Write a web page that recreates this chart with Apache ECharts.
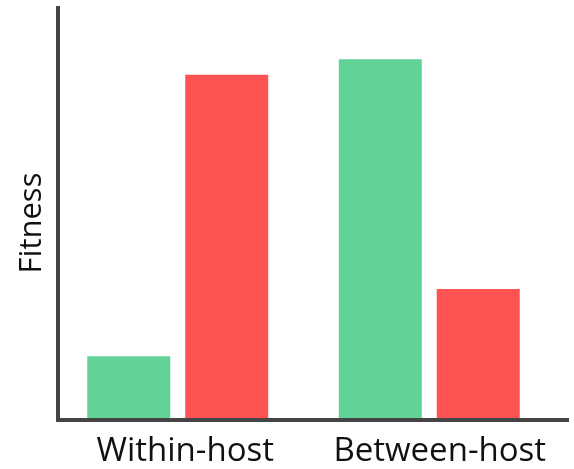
<!DOCTYPE html>
<html>
<head>
<meta charset="utf-8">
<script src="https://cdn.jsdelivr.net/npm/echarts@6/dist/echarts.min.js"></script>
<style>
  html, body { margin: 0; padding: 0; background: #ffffff; }
  #chart { width: 574px; height: 469px; }
</style>
</head>
<body>
<div id="chart"></div>
<script>
// Fitness of the two strategies at each level of selection
const categories = ['Within-host', 'Between-host'];
const greenValues = [15.0, 87.1];
const redValues = [83.3, 31.3];
const yAxisTitle = 'Fitness';

const axisColor = '#444444';
const textFont = '"Open Sans", Lato, sans-serif';

const chart = echarts.init(document.getElementById('chart'), null, { renderer: 'canvas' });

chart.setOption({
  animation: false,
  backgroundColor: '#ffffff',
  grid: [
    // frame with the axis lines and category labels
    { left: 58, right: 7, top: 8, bottom: 49 },
    // plotting area for the bars
    { left: 52, right: 19, top: 6, bottom: 51 }
  ],
  xAxis: [
    {
      gridIndex: 0,
      type: 'category',
      data: categories,
      axisLine: { show: true, lineStyle: { color: axisColor, width: 4, cap: 'square' } },
      axisTick: { show: false },
      axisLabel: { interval: 0, color: '#111111', fontSize: 33, fontFamily: textFont, margin: 15 }
    },
    {
      gridIndex: 1,
      type: 'category',
      data: categories,
      axisLine: { show: false },
      axisTick: { show: false },
      axisLabel: { show: false }
    }
  ],
  yAxis: [
    {
      gridIndex: 0,
      type: 'value',
      min: 0,
      max: 100,
      axisLine: { show: true, lineStyle: { color: axisColor, width: 4, cap: 'square' } },
      axisTick: { show: false },
      axisLabel: { show: false },
      splitLine: { show: false }
    },
    {
      gridIndex: 1,
      type: 'value',
      min: 0,
      max: 100,
      axisLine: { show: false },
      axisTick: { show: false },
      axisLabel: { show: false },
      splitLine: { show: false }
    }
  ],
  graphic: [
    {
      type: 'text',
      x: 32,
      y: 223,
      rotation: Math.PI / 2,
      style: {
        text: yAxisTitle,
        fill: '#111111',
        font: '31px ' + textFont,
        textAlign: 'center',
        textVerticalAlign: 'middle'
      }
    }
  ],
  series: [
    {
      type: 'bar',
      xAxisIndex: 1,
      yAxisIndex: 1,
      data: greenValues,
      barWidth: 83,
      barGap: '18%',
      itemStyle: { color: '#63d297' },
      silent: true
    },
    {
      type: 'bar',
      xAxisIndex: 1,
      yAxisIndex: 1,
      data: redValues,
      barWidth: 83,
      barGap: '18%',
      itemStyle: { color: '#ff5252' },
      silent: true
    }
  ]
});
</script>
</body>
</html>
